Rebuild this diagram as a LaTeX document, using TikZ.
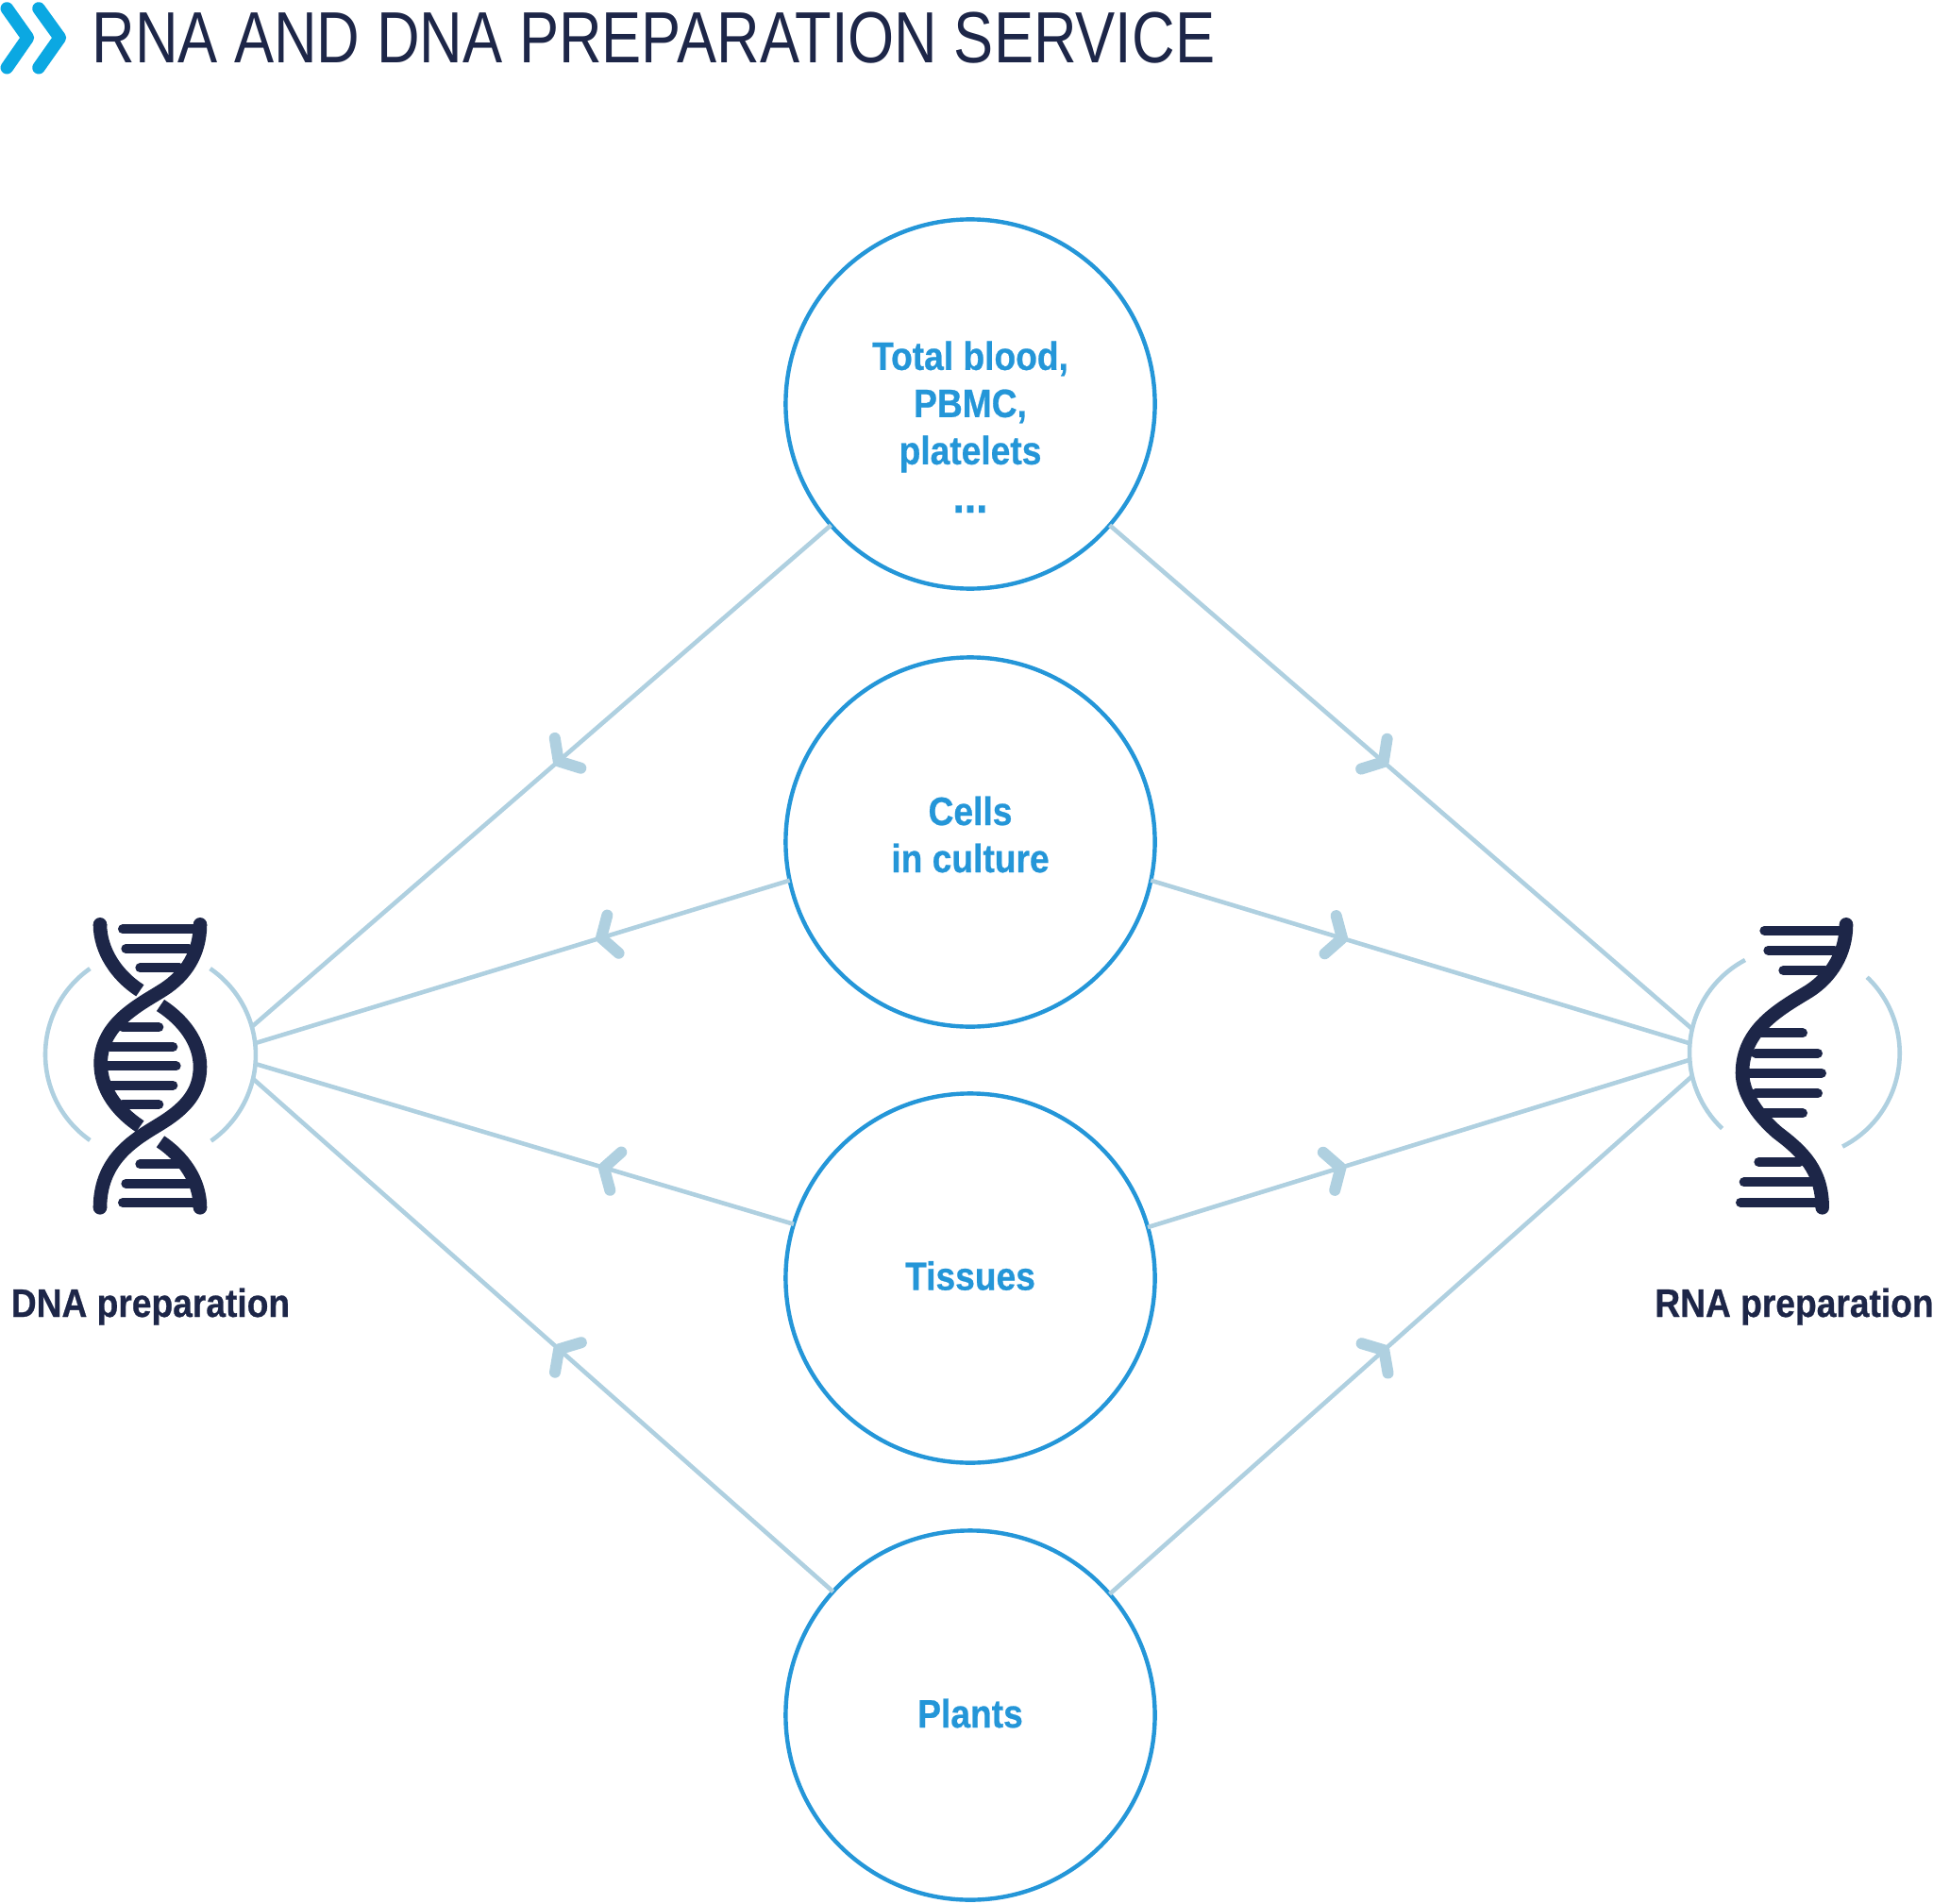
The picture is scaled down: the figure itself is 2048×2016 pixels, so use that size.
\documentclass[tikz,border=0pt]{standalone}
\usepackage{fontspec}
\setmainfont{Liberation Sans}[FakeStretch=0.885,BoldFeatures={FakeBold=0.6}]
\newfontfamily\titlefont{Liberation Sans}[FakeStretch=0.8225]
\usetikzlibrary{decorations.markings}
\definecolor{navy}{HTML}{1D2648}
\definecolor{pale}{HTML}{AFD0E0}
\definecolor{sample}{HTML}{2496D8}
\definecolor{sky}{HTML}{0BA8E2}
\tikzset{
  x=0.5pt,y=-0.5pt,
  samplenode/.style={circle,draw=sample,line width=2.2pt,minimum size=195.6pt,inner sep=0pt,outer sep=0pt},
  sampletext/.style={text=sample,align=center,inner sep=0pt,font=\bfseries\fontsize{21}{25}\selectfont},
  ring/.style={circle,minimum size=111pt,inner sep=0pt,outer sep=0pt},
  ringarc/.style={draw=pale,line width=2.3pt},
  prep/.style={anchor=base,text=navy,font=\bfseries\fontsize{21}{25}\selectfont,inner sep=0pt},
  flow/.style={draw=pale,line width=2.3pt,postaction={decorate,decoration={markings,
    mark=at position #1 with {\draw[pale,line width=6pt,line cap=round,line join=round] (-13,-21)--(0,0)--(-13,21);}}}},
  strand/.style={draw=navy,line width=7.3pt},
  rung/.style={draw=navy,line width=5pt,line cap=round},
  chev/.style={draw=sky,line width=6.8pt,line cap=round,line join=round},
}
\begin{document}
\begin{tikzpicture}
\useasboundingbox (0,0) rectangle (2048,2016);
% title
\begin{scope}[x=1/6 pt,y=-1/6 pt]
\draw[chev] (22,27)--(88,120)--(22,215);
\draw[chev] (123,27)--(190,120)--(123,215);
\end{scope}
\node[anchor=base west,inner sep=0pt,text=navy,font=\titlefont\fontsize{38.4}{44}\selectfont] (title) at (97,67) {RNA AND DNA PREPARATION SERVICE};
% sample circles
\node[samplenode] (total) at (1028,428) {};
\node[samplenode] (cells) at (1028,892) {};
\node[samplenode] (tissues) at (1028,1354) {};
\node[samplenode] (plants) at (1028,1817) {};
\node[sampletext] (totaltext) at (1028,431) {Total blood,\\PBMC,\\platelets};
\node[sampletext,anchor=base,font=\bfseries\fontsize{25}{25}\selectfont] (dots) at (1028,543) {...};
\node[sampletext] (cellstext) at (1028,884) {Cells\\in culture};
\node[sampletext] (tissuestext) at (1028,1351.5) {Tissues};
\node[sampletext] (plantstext) at (1028,1815) {Plants};
% rings
\node[ring] (dna) at (159,1117) {};
\node[ring] (rna) at (1901,1115) {};
\draw[ringarc] (dna.125) arc[start angle=125,end angle=235,radius=55.5pt];
\draw[ringarc] (dna.55.6) arc[start angle=55.6,end angle=-55,radius=55.5pt];
\draw[ringarc] (rna.118) arc[start angle=118,end angle=226.5,radius=55.5pt];
\draw[ringarc] (rna.46.5) arc[start angle=46.5,end angle=-63,radius=55.5pt];
% connectors
\draw[flow=.47] (total.221) -- (dna.15);
\draw[flow=.352] (cells.192.3) -- (dna.6);
\draw[flow=.352] (tissues.163.4) -- (dna.-5);
\draw[flow=.472] (plants.138.6) -- (dna.-13.4);
\draw[flow=.47] (total.-41) -- (rna.167.7);
\draw[flow=.355] (cells.-12.3) -- (rna.175.4);
\draw[flow=.356] (tissues.16.6) -- (rna.184.6);
\draw[flow=.471] (plants.41.4) -- (rna.193);
% DNA helix
\begin{scope}[shift={(0,940)},x=1/6 pt,y=-1/6 pt]
\draw[strand] (318,118) .. controls (318,200) and (370,280) .. (445,328);
\draw[strand] (636,118) .. controls (636,210) and (590,280) .. (520,325) .. controls (450,370) and (320,430) .. (320,560) .. controls (320,640) and (370,710) .. (445,760);
\draw[strand] (510,375) .. controls (580,420) and (636,490) .. (636,570) .. controls (636,650) and (590,700) .. (520,745) .. controls (450,790) and (318,850) .. (318,1018);
\draw[strand] (510,808) .. controls (580,855) and (636,930) .. (636,1018);
\fill[navy] (318,118) circle[radius=3.65pt] (636,118) circle[radius=3.65pt] (318,1018) circle[radius=3.65pt] (636,1018) circle[radius=3.65pt];
\foreach \xa/\xb/\yy in {390/620/133,400/600/195,445/570/256,390/505/445,350/550/507,340/560/568,350/550/629,390/505/690,445/570/880,400/600/941,390/620/1002}
  \draw[rung] (\xa,\yy)--(\xb,\yy);
\end{scope}
% RNA helix
\begin{scope}[shift={(1720,940)},x=1/6 pt,y=-1/6 pt]
\draw[strand,line cap=round] (708,118) .. controls (708,210) and (660,285) .. (590,330) .. controls (500,385) and (378,450) .. (378,590) .. controls (378,650) and (420,720) .. (490,780) .. controls (570,840) and (632,900) .. (632,1018);
\foreach \xa/\xb/\yy in {448/690/137,460/670/200,508/640/264,440/570/463,420/618/527,400/630/590,420/618/655,440/570/718,430/560/873,383/600/937,372/615/1001}
  \draw[rung] (\xa,\yy)--(\xb,\yy);
\end{scope}
% labels
\node[prep] (dnalabel) at (159.5,1395) {DNA preparation};
\node[prep] (rnalabel) at (1901,1395) {RNA preparation};
\end{tikzpicture}
\end{document}
